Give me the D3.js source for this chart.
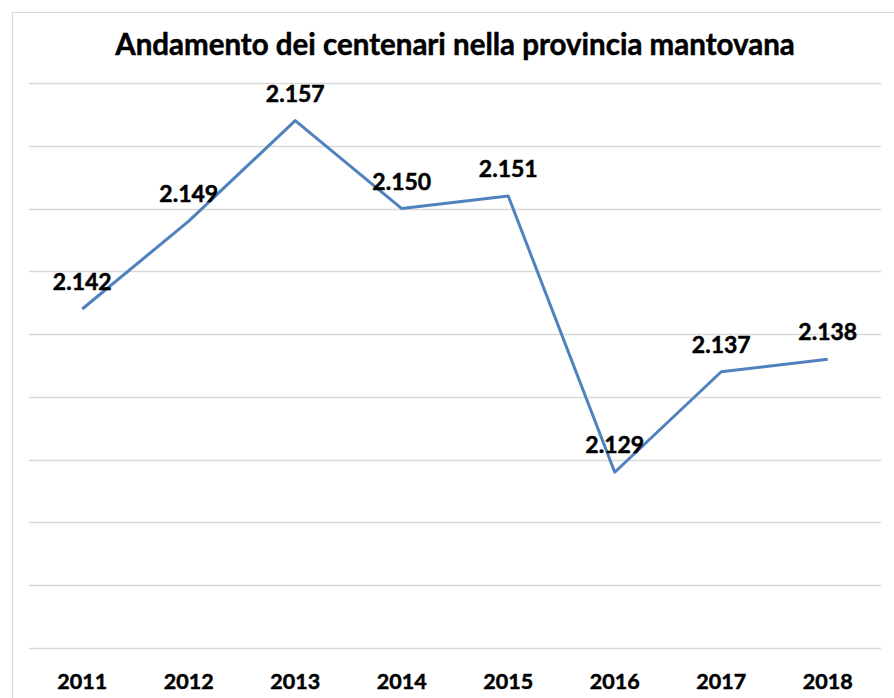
<!DOCTYPE html>
<html>
<head>
<meta charset="utf-8">
<script src="https://cdn.jsdelivr.net/npm/d3@7"></script>
<style>
  body { margin: 0; background: #fff; }
  text { font-family: Lato, "Open Sans", sans-serif; font-weight: bold; fill: #000; stroke: #000; stroke-width: 0.5px; }
</style>
</head>
<body>
<svg id="chart" width="894" height="698"></svg>
<script>
var years = ["2011", "2012", "2013", "2014", "2015", "2016", "2017", "2018"]
var centenari = [2142, 2149, 2157, 2150, 2151, 2129, 2137, 2138]
var yTicks = [2115, 2120, 2125, 2130, 2135, 2140, 2145, 2150, 2155, 2160]
var title = "Andamento dei centenari nella provincia mantovana"

var width = 894, height = 698
var plot = { left: 29, right: 881, top: 83, bottom: 648 }

var svg = d3.select("#chart")

// chart frame (right and bottom fall outside the picture)
svg.append("rect")
    .attr("x", 12.5).attr("y", 12.5)
    .attr("width", width).attr("height", height)
    .style("fill", "#fff")
    .style("stroke", "#d9d9d9")
    .style("stroke-width", 1)

var x = d3.scaleBand()
    .domain(years)
    .range([plot.left, plot.right])

var y = d3.scaleLinear()
    .domain([2115, 2160])
    .range([plot.bottom, plot.top])

// gridlines
svg.append("g")
    .selectAll("line")
    .data(yTicks)
    .enter().append("line")
    .attr("x1", plot.left).attr("x2", plot.right)
    .attr("y1", function(d) { return Math.round(y(d)) + 0.5 })
    .attr("y2", function(d) { return Math.round(y(d)) + 0.5 })
    .style("stroke", "#d9d9d9")
    .style("stroke-width", 1.3)

// x axis labels
var xAxis = d3.axisBottom(x).tickSize(0).tickPadding(0)
var gx = svg.append("g")
    .attr("transform", "translate(0," + plot.bottom + ")")
    .call(xAxis)
gx.select(".domain").remove()
gx.selectAll("text")
    .attr("dy", null)
    .attr("y", 41)
    .style("font-size", "21.5px")
    .style("font-family", "Lato, sans-serif")
    .style("font-weight", "bold")
    .style("fill", "#000")
    .style("stroke", "#000")
    .style("stroke-width", "0.5px")

var line = d3.line()
    .x(function(d, i) { return x(years[i]) + x.bandwidth() / 2 })
    .y(function(d) { return y(d) })

svg.append("path")
    .datum(centenari)
    .attr("d", line)
    .style("fill", "none")
    .style("stroke", "#4f81bd")
    .style("stroke-width", 3)
    .style("stroke-linejoin", "round")

var fmt = d3.formatLocale({ decimal: ",", thousands: ".", grouping: [3], currency: ["€", ""] }).format(",d")

svg.append("g")
    .selectAll("text")
    .data(centenari)
    .enter().append("text")
    .attr("x", function(d, i) { return x(years[i]) + x.bandwidth() / 2 })
    .attr("y", function(d) { return y(d) - 19 })
    .attr("text-anchor", "middle")
    .style("font-size", "23px")
    .text(function(d) { return fmt(d) })

svg.append("text")
    .attr("x", 455)
    .attr("y", 55)
    .attr("text-anchor", "middle")
    .style("font-size", "29.5px")
    .text(title)
</script>
</body>
</html>
